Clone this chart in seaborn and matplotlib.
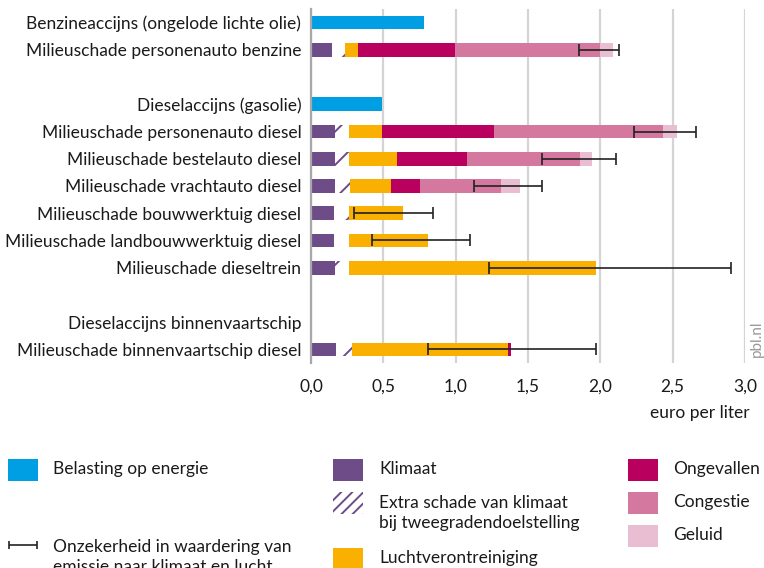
import numpy as np
import pandas as pd
import seaborn as sns
import matplotlib.pyplot as plt
from matplotlib.patches import Rectangle

# data (euro per liter)
labels = ["Benzineaccijns (ongelode lichte olie)", "Milieuschade personenauto benzine", "_b1",
          "Dieselaccijns (gasolie)", "Milieuschade personenauto diesel", "Milieuschade bestelauto diesel",
          "Milieuschade vrachtauto diesel", "Milieuschade bouwwerktuig diesel",
          "Milieuschade landbouwwerktuig diesel", "Milieuschade dieseltrein", "_b2",
          "Dieselaccijns binnenvaartschip", "Milieuschade binnenvaartschip diesel"]
nan = np.nan
belasting = [0.78, nan, nan, 0.49, nan, nan, nan, nan, nan, nan, nan, 0.0, nan]
klimaat = [nan, 0.143, nan, nan, 0.166, 0.166, 0.166, 0.161, 0.161, 0.166, nan, nan, 0.171]
extra = [nan, 0.092, nan, nan, 0.097, 0.097, 0.104, 0.102, 0.102, 0.097, nan, nan, 0.113]
lucht = [nan, 0.090, nan, nan, 0.228, 0.332, 0.283, 0.373, 0.546, 1.707, nan, nan, 1.078]
ongevallen = [nan, 0.671, nan, nan, 0.775, 0.484, 0.201, 0.0, 0.0, 0.0, nan, nan, 0.018]
congestie = [nan, 1.004, nan, nan, 1.164, 0.781, 0.560, 0.0, 0.0, 0.0, nan, nan, 0.0]
geluid = [nan, 0.086, nan, nan, 0.100, 0.080, 0.131, 0.0, 0.0, 0.0, nan, nan, 0.0]
err_low = [nan, 1.85, nan, nan, 2.23, 1.60, 1.13, 0.30, 0.42, 1.23, nan, nan, 0.81]
err_high = [nan, 2.13, nan, nan, 2.66, 2.11, 1.60, 0.84, 1.10, 2.90, nan, nan, 1.97]

c_blue = "#009fe3"
c_klim = "#6e4c87"
c_lucht = "#f9b000"
c_ong = "#ba005f"
c_cong = "#d4789f"
c_gel = "#e9bed3"
txt = "#1a1a1a"
fs = 12.5

sns.set_theme(style="white")
plt.rcParams['font.family'] = ['Lato', 'DejaVu Sans']
plt.rcParams['hatch.linewidth'] = 1.4

df = pd.DataFrame({"label": labels, "belasting": belasting, "klimaat": klimaat, "extra": extra,
                   "lucht": lucht, "ongevallen": ongevallen, "congestie": congestie, "geluid": geluid})
df["c1"] = df["klimaat"]
df["c2"] = df["c1"] + df["extra"]
df["c3"] = df["c2"] + df["lucht"]
df["c4"] = df["c3"] + df["ongevallen"]
df["c5"] = df["c4"] + df["congestie"]
df["c6"] = df["c5"] + df["geluid"]

fig = plt.figure(figsize=(7.64, 5.68), dpi=100)
ax = fig.add_axes([311 / 764, 1 - 363 / 568, 434 / 764, 354 / 568])

common = dict(data=df, y="label", order=labels, orient="h", width=0.5, saturation=1,
              errorbar=None, ax=ax, linewidth=0)
# stacked bars painted back to front
sns.barplot(x="c6", color=c_gel, **common)
sns.barplot(x="c5", color=c_cong, **common)
sns.barplot(x="c4", color=c_ong, **common)
sns.barplot(x="c3", color=c_lucht, **common)
sns.barplot(x="c2", color="white", hatch="/", edgecolor=c_klim, **common)
sns.barplot(x="c1", color=c_klim, **common)
sns.barplot(x="belasting", color=c_blue, **common)

lo = np.array(err_low)
hi = np.array(err_high)
pos = np.arange(len(labels))
ax.errorbar((lo + hi) / 2, pos, xerr=(hi - lo) / 2, fmt="none", ecolor="#222222",
            elinewidth=1.2, capsize=4, capthick=1.2, zorder=5)

ax.set_xlim(0, 3.0)
ax.set_ylim(len(labels) - 0.5, -0.5)
ax.set_xticks(np.arange(0, 3.01, 0.5))
ax.set_xticklabels([f"{v:.1f}".replace(".", ",") for v in np.arange(0, 3.01, 0.5)],
                   fontsize=fs, color=txt)
ax.set_yticks(pos)
ax.set_yticklabels(["" if l.startswith("_b") else l for l in labels], fontsize=fs, color=txt)
ax.tick_params(axis="both", length=0)
ax.tick_params(axis="x", pad=11)
ax.tick_params(axis="y", pad=7)
ax.set_xlabel("")
ax.set_ylabel("")
ax.grid(axis="x", color="#d4d4d4", linewidth=1.6)
ax.set_axisbelow(True)
for s in ["top", "right", "bottom"]:
    ax.spines[s].set_visible(False)
ax.spines["left"].set_color("#a8a8a8")
ax.spines["left"].set_linewidth(1.6)

fig.text(700 / 764, 1 - 413 / 568, "euro per liter", ha="center", va="center", fontsize=fs, color=txt)
fig.text(757 / 764, 1 - 339 / 568, "pbl.nl", rotation=90, ha="center", va="center",
         fontsize=11, color="#9a9a9a")

# legend drawn in pixel coordinates
lg = fig.add_axes([0, 0, 1, 1])
lg.set_xlim(0, 764)
lg.set_ylim(568, 0)
lg.axis("off")
lg.patch.set_visible(False)

def box(x, y, color, hatch=None):
    if hatch:
        lg.add_patch(Rectangle((x, y), 30, 22, facecolor="white", edgecolor=c_klim,
                               hatch=hatch, linewidth=0))
    else:
        lg.add_patch(Rectangle((x, y), 30, 22, facecolor=color, linewidth=0))

def label(x, y, s):
    lg.text(x, y, s, ha="left", va="center", fontsize=fs, color=txt, linespacing=1.3)

box(8, 459, c_blue)
label(53, 469, "Belasting op energie")
lg.errorbar([22.5], [545], xerr=[14], fmt="none", ecolor="#222222", elinewidth=1.2,
            capsize=3, capthick=1.2)
label(53, 557, "Onzekerheid in waardering van\nemissie naar klimaat en lucht")

box(333, 459, c_klim)
label(379, 469, "Klimaat")
box(333, 492, None, hatch="///")
label(379, 513, "Extra schade van klimaat\nbij tweegradendoelstelling")
box(333, 548, c_lucht)
label(379, 558, "Luchtverontreiniging")

box(628, 459, c_ong)
label(673, 469, "Ongevallen")
box(628, 492, c_cong)
label(673, 502, "Congestie")
box(628, 525, c_gel)
label(673, 535, "Geluid")

fig.savefig("out.png", dpi=100)
